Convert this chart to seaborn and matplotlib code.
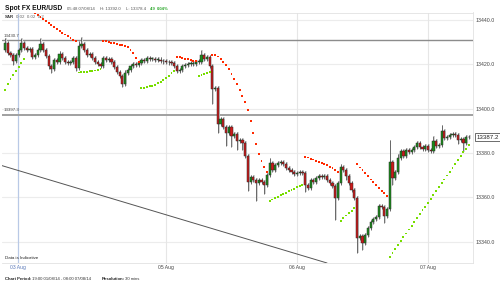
import numpy as np
import pandas as pd
import matplotlib
matplotlib.use("Agg")
import matplotlib.pyplot as plt
import matplotlib.transforms as mtransforms
import seaborn as sns

# ---------------- data (30-min EUR/USD candles, x10000) ----------------
first_open = 13426.4
close = [
    13429.6, 13425.1, 13424.2, 13421.5, 13424.2, 13426.4, 13429.6, 13427.4, 13426.4, 13426.9,
    13423.3, 13424.2, 13426.4, 13429.2, 13426.4, 13423.7, 13419.2, 13417.9, 13421.9, 13421.0,
    13424.6, 13422.8, 13421.0, 13420.6, 13421.0, 13422.8, 13418.3, 13428.3, 13429.2, 13426.4,
    13424.2, 13424.6, 13422.8, 13421.0, 13420.1, 13419.2, 13422.8, 13421.9, 13422.4, 13421.0,
    13418.8, 13416.5, 13414.7, 13411.1, 13416.1, 13417.4, 13419.2, 13420.1, 13419.7, 13420.6,
    13421.9, 13421.5, 13422.8, 13422.4, 13422.4, 13421.9, 13422.1, 13421.5, 13421.3, 13421.0,
    13420.8, 13420.6, 13419.2, 13417.0, 13417.4, 13419.2, 13419.7, 13420.1, 13420.3, 13420.3,
    13421.0, 13421.2, 13424.2, 13422.4, 13423.3, 13419.2, 13408.9, 13409.3, 13393.1, 13395.4,
    13391.8, 13389.1, 13391.8, 13387.7, 13388.6, 13385.5, 13385.9, 13384.6, 13378.7, 13367.0,
    13369.2, 13367.9, 13366.6, 13367.9, 13367.0, 13365.6, 13370.1, 13375.6, 13372.4, 13374.6,
    13375.6, 13376.0, 13375.1, 13373.3, 13372.4, 13371.5, 13370.6, 13371.0, 13371.5, 13371.0,
    13365.6, 13364.3, 13367.9, 13367.0, 13368.8, 13369.7, 13369.2, 13369.7, 13367.9, 13366.6,
    13365.2, 13359.8, 13366.6, 13373.7, 13372.4, 13369.7, 13366.6, 13363.4, 13359.8, 13341.8,
    13342.7, 13339.5, 13343.1, 13346.3, 13349.0, 13350.3, 13351.2, 13356.2, 13355.7, 13351.7,
    13354.8, 13376.0, 13368.8, 13371.5, 13377.8, 13381.0, 13378.7, 13381.4, 13380.5, 13381.4,
    13382.8, 13384.6, 13382.8, 13381.9, 13383.2, 13381.4, 13381.0, 13385.5, 13383.2, 13383.7,
    13390.0, 13386.8, 13387.3, 13388.2, 13388.6, 13388.2, 13385.9, 13386.4, 13384.6, 13387.3,
    13387.2,
]
wick_up = [
    2, 1, 1, 1, 1, 1, 2, 1, 1, 1,
    1, 1, 1, 2.5, 1, 1, 1, 1, 1, 1,
    1.5, 1, 1, 1, 1, 1, 1, 2, 3, 1,
    1, 1, 1, 1, 1, 1, 1, 1, 1, 1,
    1, 1, 1, 1, 1.5, 1, 1, 1, 1, 1,
    1, 1, 1, 1, 1, 1, 1, 1, 1, 1,
    1, 1, 1, 1, 1, 1, 1, 1, 1, 1,
    1, 1, 2, 1, 1, 1, 1, 1, 1, 1,
    1, 1, 1, 1, 1, 1, 1, 1, 1, 1,
    1, 1, 1, 1, 1, 1, 1, 2, 1, 1,
    1, 1, 1, 1, 1, 1, 1, 1, 1, 1,
    1, 1, 1, 1, 1, 1, 1, 1, 1, 1,
    1, 1, 1, 1.5, 1, 1, 1, 1, 1, 1,
    1, 1, 1, 1, 1, 1, 1, 1, 1, 1,
    1, 10, 1, 1, 2, 1, 1, 1, 1, 1,
    1, 1, 1, 1, 1, 1, 1, 2, 1, 1,
    2.5, 1, 1, 1, 1, 1, 1, 1, 1, 1,
    1,
]
wick_dn = [
    1, 1, 1, 2, 1, 1, 1, 1, 1, 1,
    1, 1, 1, 1, 1, 1, 1.5, 2, 1, 1,
    1, 1, 1, 1, 1, 1, 1.5, 1, 1, 1,
    1, 1, 1, 1, 1, 1, 1, 1, 1, 1,
    1, 1, 1, 1.5, 1, 1, 1, 1, 1, 1,
    1, 1, 1, 1, 1, 1, 1, 1, 1, 1,
    1, 1, 1, 1, 1, 1, 1, 1, 1, 1,
    1, 1, 1, 1, 1, 1, 7, 1, 4, 1,
    1, 6, 1, 5, 1, 4, 1, 3, 1, 4,
    1, 1, 8, 1, 1, 4, 1, 1, 1, 1,
    1, 1, 1, 1, 1, 1, 1, 1, 1, 1,
    3, 1, 1, 1, 1, 1, 1, 1, 1, 1,
    1, 10, 1, 1, 1, 2, 1, 1, 1, 7,
    1, 3, 1, 1, 1, 1, 1, 1, 1, 3,
    1, 1, 3, 1, 1, 1, 1, 1, 1, 1,
    1, 1, 1, 1, 1, 1, 1, 1, 1, 1,
    1, 1, 1, 1, 1, 1, 2, 1, 4, 1,
    1,
]
# Parabolic SAR (0.02, 0.02, 0.2) as drawn
sar = [
    13408.4, 13411.1, 13413.4, 13415.2, 13417.0, 13418.8, 13420.6, 13422.4,
    13446.0, 13445.2, 13444.4,
    13442.9, 13442.2, 13441.3, 13440.2, 13439.3, 13438.4, 13437.5, 13436.6, 13435.9, 13435.0,
    13434.1, 13433.4, 13432.8, 13431.9, 13431.0, 13430.5,
    13416.3, 13416.4, 13416.5, 13416.7, 13416.9, 13417.0, 13417.2, 13417.4, 13417.8,
    13430.6, 13430.3, 13429.9, 13429.6, 13429.4, 13429.2, 13428.8, 13428.6, 13428.2, 13427.6,
    13426.4, 13424.9, 13422.8, 13421.0,
    13409.2, 13409.4, 13409.7, 13410.0, 13410.4, 13410.8, 13411.4, 13412.0, 13412.8, 13413.6,
    13414.6, 13415.9, 13417.0,
    13423.3, 13423.1, 13422.8, 13422.5, 13422.3, 13421.9, 13421.6, 13421.3,
    13414.9, 13415.3, 13415.7, 13416.2, 13416.7,
    13424.3, 13424.0, 13423.5, 13422.5, 13421.0, 13419.6, 13417.8, 13415.6, 13413.3, 13411.2,
    13408.4, 13405.7, 13403.1, 13399.6, 13394.6, 13388.9, 13383.9, 13379.6, 13376.3, 13373.7,
    13371.5,
    13358.4, 13359.1, 13359.7, 13360.3, 13361.0, 13361.6, 13362.2, 13362.8, 13363.4, 13364.0,
    13364.6, 13365.2, 13365.8,
    13378.4, 13378.0, 13377.5, 13377.1, 13376.6, 13376.1, 13375.6, 13375.1, 13374.5, 13373.9,
    13373.2, 13372.3, 13371.3,
    13349.6, 13350.8, 13351.9, 13353.0, 13354.1, 13355.3,
    13374.9, 13373.5, 13372.2, 13370.9, 13369.5, 13368.1, 13366.8, 13365.6, 13364.3, 13363.1,
    13361.9, 13360.5,
    13333.3, 13335.1, 13336.8, 13338.6, 13340.4, 13342.1, 13343.8, 13345.6, 13347.3, 13349.0,
    13350.8, 13352.5, 13354.2, 13355.9, 13357.7, 13359.4, 13361.1, 13362.9, 13364.6, 13366.4,
    13368.1, 13369.9, 13371.6, 13373.3, 13375.1, 13376.8, 13378.6, 13380.3, 13382.0, 13383.7,
]
ref_levels = [13430.7, 13397.3]
last_price = 13387.2
trend_x = [-1.8, 118.0]
trend_y = [13374.6, 13330.5]
y_ticks = [13340.0, 13360.0, 13380.0, 13400.0, 13420.0, 13440.0]
date_ticks = [4.8, 59, 107, 155]
date_labels = ["03 Aug", "05 Aug", "06 Aug", "07 Aug"]

# ---------------- build frame ----------------
n = len(close)
df = pd.DataFrame({"i": np.arange(n), "close": close})
df["open"] = [first_open] + close[:-1]
df["top"] = df[["open", "close"]].max(axis=1)
df["bot"] = df[["open", "close"]].min(axis=1)
df["high"] = df["top"] + np.array(wick_up)
df["low"] = df["bot"] - np.array(wick_dn)
df["up"] = df["close"] >= df["open"]
df["sar"] = sar
df["side"] = np.where(df["sar"] > df["close"], "dn", "up")

sns.set_theme(style="white")
plt.rcParams["font.family"] = ["Liberation Sans", "DejaVu Sans"]

W, H = 500, 284
fig = plt.figure(figsize=(5.0, 2.84), dpi=100)
ax = fig.add_axes([2 / W, 1 - 263 / H, 471 / W, (263 - 12.5) / H])

ax.set_xlim(-1.1, 171.5)
ax.set_ylim(13330.5, 13443.3)

# grid
for yv in y_ticks:
    ax.axhline(yv, color="#ececec", lw=0.8, zorder=0)
for xv in date_ticks[1:]:
    ax.axvline(xv, color="#e6e6e6", lw=0.8, zorder=0)
ax.axvline(date_ticks[0], color="#b9c9e6", lw=0.9, zorder=0)

# reference levels
ax.axhline(ref_levels[0], color="#8c8c8c", lw=1.0, zorder=1)
ax.axhline(ref_levels[1], color="#a0a0a0", lw=1.4, zorder=1)
ax.text(-0.6, ref_levels[0] + 2.0, f"{ref_levels[0]:.1f}", fontsize=3.2, color="#444",
        va="center", ha="left")
ax.text(-0.6, ref_levels[1] + 2.0, f"{ref_levels[1]:.1f}", fontsize=3.2, color="#444",
        va="center", ha="left")

# trend line
sns.lineplot(x=trend_x, y=trend_y, color="#555555", lw=0.7, ax=ax, zorder=1)

# candles
ax.bar(df["i"] + 0.35, df["high"] - df["low"], bottom=df["low"], width=0.55,
       color="#d4d4d4", zorder=2, linewidth=0)
ax.vlines(df["i"], df["low"], df["high"], color="#4a4a4a", lw=0.55, zorder=3)
heights = np.maximum(df["top"] - df["bot"], 0.25)
colors = np.where(df["up"], "#1b8c1b", "#cc1a1a")
ax.bar(df["i"], heights, bottom=df["bot"], width=0.8, color=colors,
       edgecolor="#2a2a2a", linewidth=0.35, zorder=4)

# SAR dots
sns.scatterplot(data=df, x="i", y="sar", hue="side",
                palette={"up": "#77dd00", "dn": "#ff2a00"},
                marker="s", s=1.9, linewidth=0, legend=False, ax=ax, zorder=5)

# axes styling
ax.set_xlabel("")
ax.set_ylabel("")
ax.yaxis.tick_right()
ax.set_yticks(y_ticks)
ax.set_yticklabels([f"{v:.1f}" for v in y_ticks], fontsize=3.8, color="#444")
ax.set_xticks(date_ticks)
ax.set_xticklabels(date_labels, fontsize=3.6, color="#444")
ax.get_xticklabels()[0].set_color("#5a78b8")
ax.tick_params(length=0, pad=1.5)
for s in ax.spines.values():
    s.set_color("#e2e2e2")
    s.set_linewidth(0.6)
ax.spines["left"].set_visible(False)

# current price box
trans = mtransforms.blended_transform_factory(ax.transAxes, ax.transData)
ax.text(1.008, last_price, f"{last_price:.1f}", transform=trans, fontsize=4.4,
        color="#222", va="center", ha="left",
        bbox=dict(boxstyle="square,pad=0.25", fc="white", ec="#555", lw=0.6))

# header / footer text
def ftext(x, y, s, **kw):
    fig.text(x / W, 1 - y / H, s, va="center", ha="left", **kw)

ftext(5, 8, "Spot FX EUR/USD", fontsize=4.8, color="#111", fontweight="semibold")
ftext(67, 8.5, "05:48 07/08/14", fontsize=3.1, color="#555")
ftext(100, 8.5, "H: 13392.0", fontsize=3.1, color="#555")
ftext(126, 8.5, "L: 13378.4", fontsize=3.1, color="#555")
ftext(150, 8.5, "4.9", fontsize=3.1, color="#33aa33", fontweight="bold")
ftext(157, 8.5, "0.04%", fontsize=3.1, color="#33aa33", fontweight="bold")
ftext(5, 17, "SAR", fontsize=3.2, color="#333", fontweight="bold")
ftext(16, 17, "0.02  0.02  0.2", fontsize=3.2, color="#666")
ftext(5, 258, "Data is Indicative", fontsize=3.2, color="#222")
ftext(5, 279.5, "Chart Period:", fontsize=3.1, color="#222", fontweight="bold")
ftext(32, 279.5, "19:00 01/08/14 - 08:00 07/08/14", fontsize=3.1, color="#333")
ftext(102, 279.5, "Resolution:", fontsize=3.1, color="#222", fontweight="bold")
ftext(125, 279.5, "30 mins", fontsize=3.1, color="#333")

fig.savefig("out.png", dpi=100, facecolor="white")
